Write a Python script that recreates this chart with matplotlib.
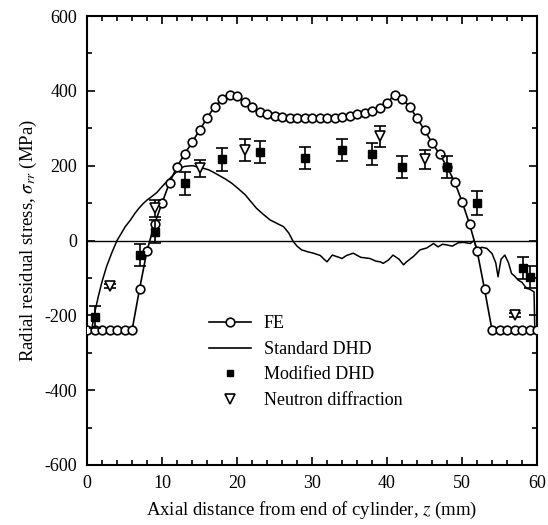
import matplotlib
matplotlib.use("Agg")
import matplotlib.pyplot as plt
from matplotlib.ticker import MultipleLocator
from matplotlib.lines import Line2D

plt.rcParams['font.family'] = ['Liberation Serif', 'DejaVu Serif']
plt.rcParams['mathtext.fontset'] = 'stix'
plt.rcParams['axes.unicode_minus'] = False

# FE prediction
fe_z = list(range(0, 61))
fe_s = [-240, -240, -240, -240, -240, -240, -240, -130, -27, 44,
        100, 155, 197, 231, 262, 295, 327, 358, 377, 389,
        385, 369, 356, 344, 337, 333, 330, 328, 327, 327,
        327, 327, 327, 328, 330, 333, 337, 341, 346, 355,
        368, 389, 378, 358, 327, 295, 261, 231, 197, 157,
        104, 44, -27, -130, -240, -240, -240, -240, -240, -240, -240]

# Standard DHD
dhd_z = [0.6, 1.0, 1.5, 2.0, 2.6, 3.3, 4.0, 4.6, 5.1, 5.8, 6.4, 7.0, 7.5, 8.0, 8.6, 9.3,
         10.0, 10.6, 11.3, 11.9, 12.4, 13.0, 13.5, 14.1, 14.8, 15.5, 16.2, 16.8, 17.5, 18.4,
         19.3, 20.2, 21.1, 21.8, 22.6, 23.5, 24.4, 25.3, 26.2, 26.9, 27.5, 28.0, 28.6, 29.4,
         30.2, 31.1, 31.6, 32.0, 32.7, 33.3, 34.0, 34.6, 35.5, 36.5, 37.7, 38.5, 39.1, 39.5,
         40.2, 40.8, 41.6, 42.2, 42.6, 43.5, 44.4, 45.3, 46.2, 46.8, 47.4, 48.0, 48.7, 49.5,
         50.2, 51.1, 51.6, 52.0, 52.6, 53.3, 54.0, 54.5, 54.8, 55.2, 55.7, 56.2, 56.6, 57.0,
         57.5, 58.0, 58.6, 59.0, 59.6, 59.7]
dhd_s = [-240, -195, -150, -110, -70, -33, 0, 20, 37, 55, 73, 88, 99, 108, 117, 128,
         144, 157, 171, 183, 193, 198, 199, 200, 196, 193, 189, 183, 175, 165,
         153, 138, 122, 105, 86, 70, 55, 46, 37, 20, -3, -15, -25, -30,
         -34, -40, -50, -57, -39, -43, -48, -40, -34, -45, -48, -55, -57, -61,
         -52, -39, -50, -65, -57, -43, -25, -20, -8, -17, -10, -12, -15, -6,
         -5, -8, 0, -25, -18, -21, -35, -60, -97, -50, -39, -60, -88, -95,
         -106, -112, -128, -130, -137, -240]

# Modified DHD
mod_z = [1.0, 7.0, 9.0, 13.0, 18.0, 23.0, 29.0, 34.0, 38.0, 42.0, 48.0, 52.0, 58.1, 59.1]
mod_s = [-205, -39, 24, 153, 217, 237, 220, 242, 231, 196, 196, 101, -74, -97]
mod_e = [30, 30, 30, 31, 30, 30, 30, 30, 30, 30, 30, 32, 30, 30]

# Neutron diffraction
neu_z = [3.0, 9.0, 15.0, 21.0, 39.0, 45.0, 57.0]
neu_s = [-122, 86, 193, 242, 278, 217, -199]
neu_e = [6, 22, 22, 30, 28, 25, 6]

fig = plt.figure(figsize=(5.48, 5.25), dpi=100)
ax = fig.add_axes([0.1588, 0.1143, 0.8212, 0.8552])

ax.axhline(0, color='black', lw=1.0, zorder=1)
ax.plot(dhd_z, dhd_s, color='black', lw=1.1, zorder=2)
ax.plot(fe_z, fe_s, color='black', lw=1.2, marker='o', ms=6.2, mfc='white',
        mec='black', mew=1.2, zorder=3)
ax.errorbar(mod_z, mod_s, yerr=mod_e, fmt='s', ms=6, mfc='black', mec='black',
            ecolor='black', elinewidth=1.2, capsize=4.5, capthick=1.2, zorder=4)
ax.errorbar(neu_z, neu_s, yerr=neu_e, fmt='v', ms=7, mfc='white', mec='black',
            mew=1.2, ecolor='black', elinewidth=1.2, capsize=4.5, capthick=1.2, zorder=4)

ax.set_xlim(0, 60)
ax.set_ylim(-600, 600)
ax.xaxis.set_major_locator(MultipleLocator(10))
ax.xaxis.set_minor_locator(MultipleLocator(2))
ax.yaxis.set_major_locator(MultipleLocator(200))
ax.yaxis.set_minor_locator(MultipleLocator(100))
ax.tick_params(which='both', direction='in', top=True, right=True, width=1.2,
               labelsize=13, colors='black')
ax.tick_params(which='major', length=6, pad=7)
ax.tick_params(which='minor', length=3.5)
for sp in ax.spines.values():
    sp.set_linewidth(1.5)

ax.set_xlabel('Axial distance from end of cylinder, $z$ (mm)', fontsize=13.5, labelpad=6)
ax.set_ylabel(r'Radial residual stress, $\sigma_{rr}$ (MPa)', fontsize=13.5, labelpad=4)

handles = [
    Line2D([], [], color='black', lw=1.2, marker='o', ms=6.2, mfc='white', mec='black', mew=1.2),
    Line2D([], [], color='black', lw=1.2),
    Line2D([], [], ls='none', marker='s', ms=5, mfc='black', mec='black'),
    Line2D([], [], ls='none', marker='v', ms=6.5, mfc='white', mec='black', mew=1.2),
]
labels = ['FE', 'Standard DHD', 'Modified DHD', 'Neutron diffraction']
ax.legend(handles, labels, loc='upper left', bbox_to_anchor=(0.272, 0.333),
          frameon=False, fontsize=13, handlelength=2.3, handletextpad=0.7,
          labelspacing=0.47, borderpad=0, borderaxespad=0)

fig.savefig('out.png', dpi=100)
